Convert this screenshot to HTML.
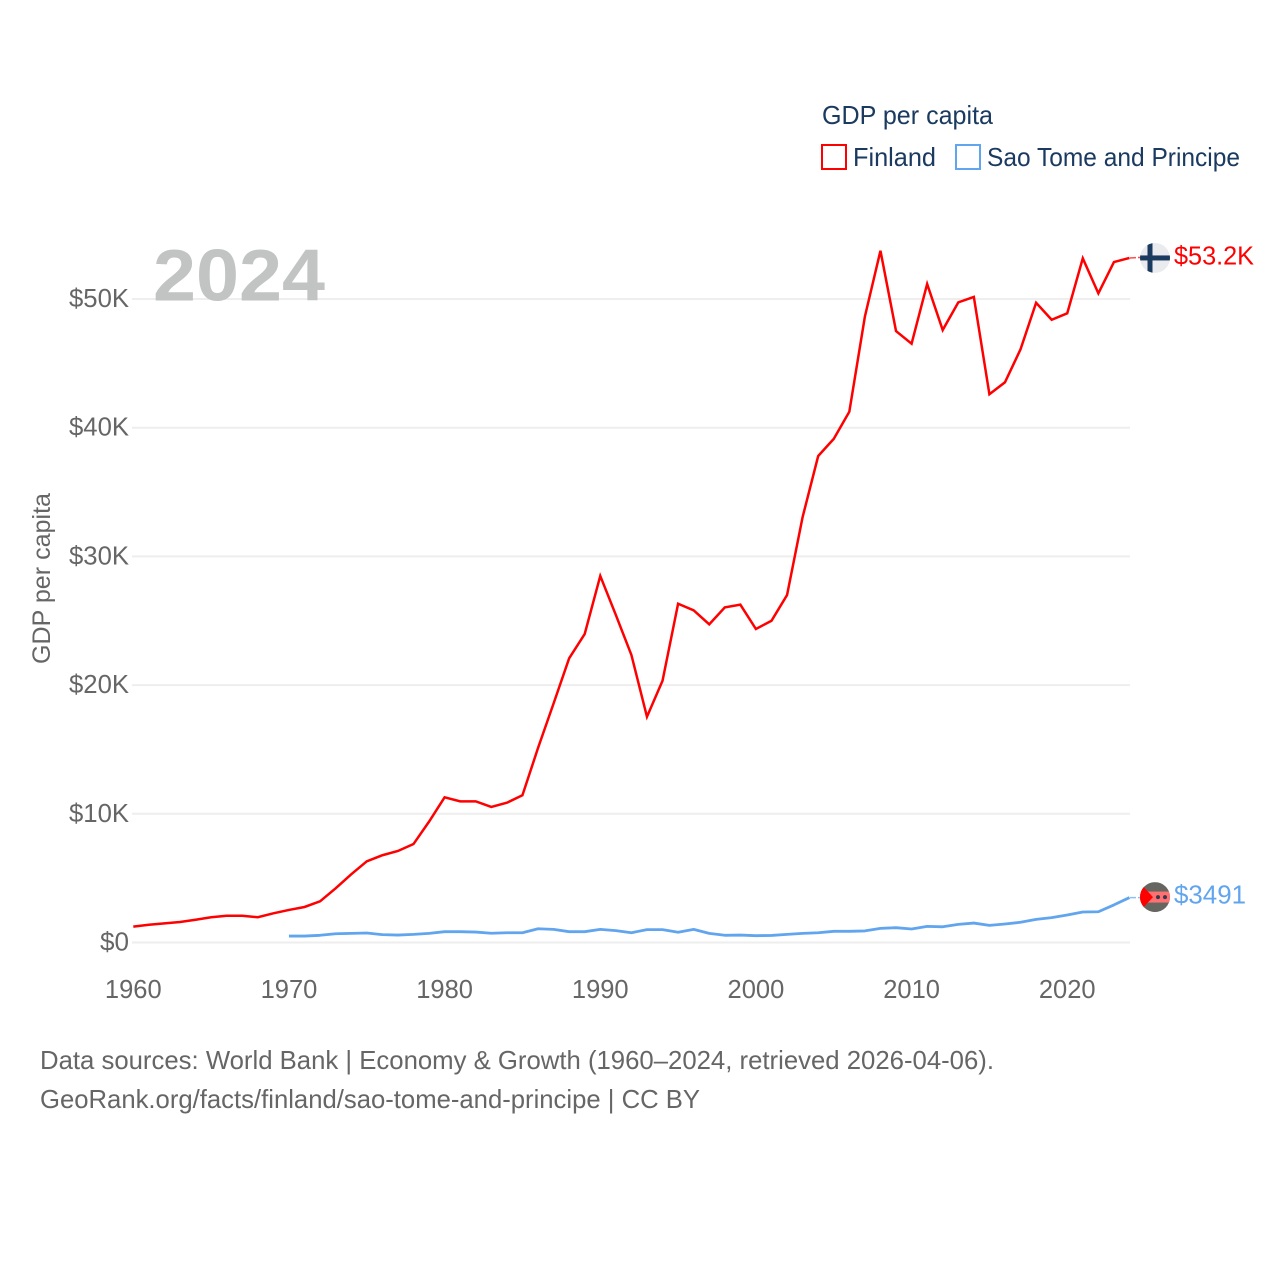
<!DOCTYPE html>
<html lang="en">
<head>
<meta charset="utf-8">
<title>GDP per capita: Finland and Sao Tome and Principe</title>
<style>
  html, body { margin: 0; padding: 0; background: #fff; }
  svg { display: block; font-family: "Liberation Sans", sans-serif; }
</style>
</head>
<body>
<svg id="chart" xmlns="http://www.w3.org/2000/svg" width="1280" height="1280" viewBox="0 0 1280 1280">
  <defs>
    <clipPath id="flag-clip-fi"><circle cx="0" cy="0" r="15"></circle></clipPath>
    <clipPath id="flag-clip-st"><circle cx="0" cy="0" r="15"></circle></clipPath>
  </defs>
  <rect x="0" y="0" width="1280" height="1280" fill="#ffffff"></rect>

  <g id="grid"></g>

  <text x="153" y="300.5" font-size="73" font-weight="700" fill="#c2c4c4" textLength="172" lengthAdjust="spacingAndGlyphs">2024</text>

  <g id="y-ticks"></g>
  <g id="x-ticks"></g>
  <text transform="translate(50,664) rotate(-90)" font-size="25" fill="#666666" textLength="171" lengthAdjust="spacingAndGlyphs">GDP per capita</text>

  <g id="series"></g>
  <g id="end-markers"></g>

  <g>
    <text x="822" y="124" font-size="26" fill="#1a3a60" textLength="171" lengthAdjust="spacingAndGlyphs">GDP per capita</text>
    <g>
      <rect x="822" y="145" width="24" height="24" fill="none" stroke="#ff0000" stroke-width="2"></rect>
      <text x="853" y="166" font-size="26" fill="#1a3a60" textLength="83" lengthAdjust="spacingAndGlyphs">Finland</text>
    </g>
    <g>
      <rect x="956" y="145" width="24" height="24" fill="none" stroke="#61a5ee" stroke-width="2"></rect>
      <text x="987" y="166" font-size="26" fill="#1a3a60" textLength="253" lengthAdjust="spacingAndGlyphs">Sao Tome and Principe</text>
    </g>
  </g>

  <text x="40" y="1069" font-size="26" fill="#666666" textLength="954" lengthAdjust="spacingAndGlyphs">Data sources: World Bank | Economy &amp; Growth (1960–2024, retrieved 2026-04-06).</text>
  <text x="40" y="1108" font-size="26" fill="#666666" textLength="660" lengthAdjust="spacingAndGlyphs">GeoRank.org/facts/finland/sao-tome-and-principe | CC BY</text>
</svg>

<script>
const finlandStartYear = 1960;
const saoTomeStartYear = 1970;
const xTickYears = [1960, 1970, 1980, 1990, 2000, 2010, 2020];
const yTickValues = [0, 10, 20, 30, 40, 50];
const yTickLabels = ["$0", "$10K", "$20K", "$30K", "$40K", "$50K"];
const finlandValues = [
  1.23, 1.38, 1.49, 1.59, 1.77, 1.96, 2.08, 2.08, 1.96, 2.27,
  2.53, 2.76, 3.20, 4.21, 5.30, 6.31, 6.78, 7.11, 7.65, 9.39,
  11.28, 10.97, 10.97, 10.53, 10.86, 11.44, 15.11, 18.57, 22.08, 23.97,
  28.48, 25.45, 22.34, 17.54, 20.34, 26.32, 25.81, 24.72, 26.04, 26.25,
  24.36, 25.00, 27.00, 33.06, 37.80, 39.13, 41.24, 48.63, 53.75, 47.51,
  46.53, 51.17, 47.59, 49.74, 50.16, 42.60, 43.53, 46.09, 49.71, 48.39,
  48.89, 53.16, 50.44, 52.87, 53.19
];
const saoTomeValues = [
  0.50, 0.50, 0.56, 0.68, 0.71, 0.74, 0.61, 0.58, 0.63, 0.71,
  0.84, 0.84, 0.81, 0.72, 0.76, 0.76, 1.07, 1.02, 0.84, 0.84,
  1.02, 0.92, 0.76, 1.00, 1.00, 0.80, 1.02, 0.71, 0.56, 0.58,
  0.53, 0.55, 0.63, 0.71, 0.76, 0.87, 0.87, 0.90, 1.10, 1.15,
  1.05, 1.25, 1.22, 1.41, 1.51, 1.33, 1.44, 1.57, 1.80, 1.93,
  2.14, 2.37, 2.39, 2.92, 3.491
];

const SVG_NS = "http://www.w3.org/2000/svg";

function xScale(year) {
  return 133.3 + (year - 1960) * (1129.5 - 133.3) / 64;
}
function yScale(value) {
  return 942.5 - value * 12.87;
}
function make(tag, attrs, parent) {
  const el = document.createElementNS(SVG_NS, tag);
  for (const key in attrs) el.setAttribute(key, attrs[key]);
  parent.appendChild(el);
  return el;
}
function linePoints(values, startYear) {
  return values.map(function (v, i) {
    return xScale(startYear + i).toFixed(2) + "," + yScale(v).toFixed(2);
  }).join(" ");
}
function formatEnd(value) {
  return value >= 10 ? "$" + value.toFixed(1) + "K" : "$" + Math.round(value * 1000);
}

const gridGroup = document.getElementById("grid");
const yTickGroup = document.getElementById("y-ticks");
const xTickGroup = document.getElementById("x-ticks");
const seriesGroup = document.getElementById("series");
const markerGroup = document.getElementById("end-markers");

yTickValues.forEach(function (value, i) {
  const grid = make("line", { x1: 132, x2: 1130, y1: yScale(value), y2: yScale(value), stroke: "#eeeeee", "stroke-width": 2 }, gridGroup);
  
  
  const label = make("text", { x: 129, y: yScale(value) + 8, "text-anchor": "end", "font-size": 25.5, fill: "#666666", textLength: i === 0 ? 29 : 60, lengthAdjust: "spacingAndGlyphs" }, yTickGroup);
  label.textContent = yTickLabels[i];
  
  
});

xTickYears.forEach(function (year) {
  const label = make("text", { x: xScale(year), y: 998, "text-anchor": "middle", "font-size": 25.5, fill: "#666666" }, xTickGroup);
  label.textContent = String(year);
  
  
});

const finlandLine = make("polyline", { points: linePoints(finlandValues, finlandStartYear), fill: "none", stroke: "#ff0000", "stroke-width": 2.5, "stroke-linejoin": "miter" }, seriesGroup);



const saoTomeLine = make("polyline", { points: linePoints(saoTomeValues, saoTomeStartYear), fill: "none", stroke: "#61a5ee", "stroke-width": 2.8, "stroke-linejoin": "round" }, seriesGroup);



/* Finland end marker */
const finlandLast = finlandValues[finlandValues.length - 1];
const finlandEndY = yScale(finlandLast);
const finlandLeader = make("line", { x1: 1130, x2: 1140, y1: finlandEndY, y2: finlandEndY - 0.5, stroke: "#ff0000", "stroke-width": 1.5, "stroke-dasharray": "6 2", opacity: 0.7 }, markerGroup);


const finlandFlag = make("g", { transform: "translate(1155," + finlandEndY + ")", "clip-path": "url(#flag-clip-fi)" }, markerGroup);


make("rect", { x: -15, y: -15, width: 30, height: 30, fill: "#e9ebef" }, finlandFlag);
make("rect", { x: -15, y: -2.5, width: 30, height: 5, fill: "#1a3a60" }, finlandFlag);
make("rect", { x: -7.5, y: -15, width: 5, height: 30, fill: "#1a3a60" }, finlandFlag);
const finlandLabel = make("text", { x: 1174, y: finlandEndY + 6.5, "font-size": 25.5, fill: "#ff0000", textLength: 80, lengthAdjust: "spacingAndGlyphs" }, markerGroup);
finlandLabel.textContent = formatEnd(finlandLast);



/* Sao Tome end marker */
const saoTomeLast = saoTomeValues[saoTomeValues.length - 1];
const saoTomeEndY = yScale(saoTomeLast);
const saoTomeLeader = make("line", { x1: 1130, x2: 1140, y1: saoTomeEndY, y2: saoTomeEndY, stroke: "#61a5ee", "stroke-width": 1.5, "stroke-dasharray": "6 2", opacity: 0.7 }, markerGroup);


const saoTomeFlag = make("g", { transform: "translate(1155," + (saoTomeEndY - 0.5) + ")", "clip-path": "url(#flag-clip-st)" }, markerGroup);


make("rect", { x: -15, y: -15, width: 30, height: 30, fill: "#666661" }, saoTomeFlag);
make("rect", { x: -15, y: -5.5, width: 30, height: 11, fill: "#ff7070" }, saoTomeFlag);
make("polygon", { points: "-16,-15 -16,15 -2,0", fill: "#ff0000" }, saoTomeFlag);
make("circle", { cx: 3, cy: 0, r: 2, fill: "#333a50" }, saoTomeFlag);
make("circle", { cx: 10, cy: 0, r: 2, fill: "#333a50" }, saoTomeFlag);
const saoTomeLabel = make("text", { x: 1174, y: saoTomeEndY + 6, "font-size": 25.5, fill: "#61a5ee", textLength: 72, lengthAdjust: "spacingAndGlyphs" }, markerGroup);
saoTomeLabel.textContent = formatEnd(saoTomeLast);


</script>
</body>
</html>
